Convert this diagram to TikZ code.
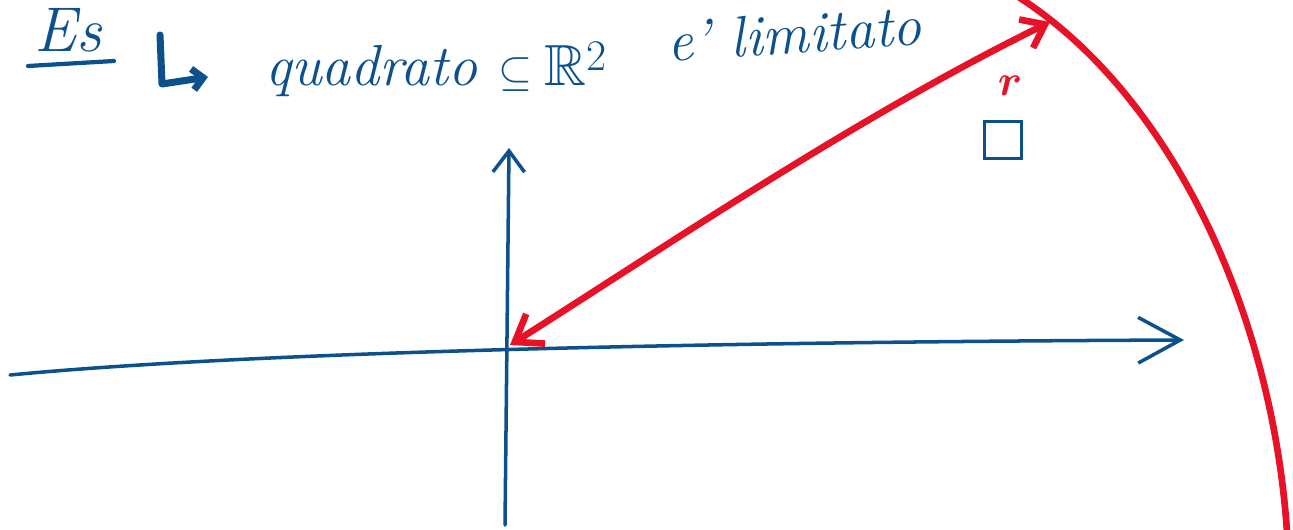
\documentclass[tikz,border=0pt]{standalone}
\usepackage{amsmath,amssymb}
\usetikzlibrary{arrows.meta}

\definecolor{penblue}{RGB}{12,80,140}
\definecolor{penred}{RGB}{232,18,40}
\tikzset{
  blueink/.style={draw=penblue, line width=2pt, line cap=round, line join=round},
  redink/.style={draw=penred, line width=3.8pt, line cap=round, line join=round},
  hand/.style={font=\fontsize{33}{40}\selectfont\itshape, text=penblue, inner sep=0pt, anchor=base west},
}

\begin{document}
\begin{tikzpicture}[x=0.02cm, y=-0.02cm]
\useasboundingbox (0,0) rectangle (1293,530);

% Axes
\coordinate (xstart) at (10,375);
\coordinate (xend) at (1184,340);
\coordinate (ystart) at (505,525);
\coordinate (yend) at (509,148);
\coordinate (orig) at (510,345);
\draw[blueink, -{Straight Barb[length=24pt,width=26pt]}] (xstart) .. controls (250,352) and (700,342) .. (xend);
\draw[blueink, -{Straight Barb[length=12pt,width=18pt]}] (ystart) -- (yend);

% Radius and circle
\coordinate (tip) at (1050,22);
\draw[redink, {Straight Barb[length=14pt,width=20pt]}-{Straight Barb[length=12pt,width=18pt]}]
  (orig) .. controls (660,250) and (860,115) .. (tip);
\draw[redink] (1020,-2) .. controls (1170,95) and (1272,310) .. (1287,532);

% Heading
\node[hand, font=\fontsize{36}{42}\selectfont\itshape] (es) at (34,52) {Es};
\draw[blueink, line width=2.4pt] (28,66) -- (114,61);
\draw[blueink, line width=4pt, -{Straight Barb[length=6pt,width=12pt]}] (160,35) -- (162,84) -- (208,77);
\node[hand] (sq) at (265,86) {quadrato $\subseteq \mathbb{R}^2$};
\node[hand, rotate=4] (lim) at (668,62) {e' limitato};

% Marks
\node[font=\fontsize{36}{40}\selectfont\bfseries, text=penred, inner sep=0pt] (rr) at (1010,86) {$\boldsymbol{r}$};
\node[draw=penblue, line width=1.6pt, minimum size=0.74cm, inner sep=0pt] (box) at (1003,140) {};
\end{tikzpicture}
\end{document}
